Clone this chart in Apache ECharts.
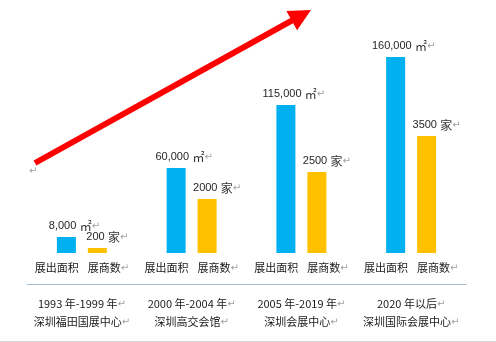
<!DOCTYPE html>
<html><head><meta charset="utf-8">
<script src="https://cdn.jsdelivr.net/npm/echarts@6/dist/echarts.min.js"></script>
<style>html,body{margin:0;padding:0;background:#fff}#c{width:496px;height:342px}</style>
</head><body><div id="c"></div>
<script>
// ---- data ----
const periods = ['1993 年-1999 年', '2000 年-2004 年', '2005 年-2019 年', '2020 年以后'];
const venues = ['深圳福田国展中心', '深圳高交会馆', '深圳会展中心', '深圳国际会展中心'];
const barNames = ['展出面积', '展商数'];
const areaValues = [8000, 60000, 115000, 160000];      // ㎡ (as labelled)
const exhibitorValues = [200, 2000, 2500, 3500];        // 家 (as labelled)
// bar heights as drawn in the original (illustrative, not to scale), in chart units
const areaDrawn = [16, 85, 148, 196];
const exhibitorDrawn = [5, 54, 81, 117];

const CJK = '"Noto Sans CJK SC", sans-serif';
const NUM = '"Liberation Sans", Arial, sans-serif';
const RET = {fontFamily: '"DejaVu Sans"', fontSize: 10, color: '#a0a0a0'};
const chart = echarts.init(document.getElementById('c'));

const rich = {
  n: {fontFamily: NUM, fontSize: 11, color: '#262626'},
  u: {fontFamily: CJK, fontSize: 12, color: '#333'},
  r: RET
};

// arrow geometry (decoration)
const aS = [35, 163], aT = [311, 10];
const dx = aT[0] - aS[0], dy = aT[1] - aS[1], L = Math.hypot(dx, dy);
const ux = dx / L, uy = dy / L, px = -uy, py = ux;
const headLen = 22, headHalf = 11;
const base = [aT[0] - ux * headLen, aT[1] - uy * headLen];

chart.setOption({
  backgroundColor: '#fff',
  animation: false,
  grid: {left: 27, right: 30, top: 53, bottom: 89},
  xAxis: [
    {
      type: 'category', data: periods, position: 'bottom',
      axisLine: {show: false}, axisTick: {show: false},
      axisLabel: {
        margin: 9, interval: 0,
        formatter: () => `{a|${barNames[0]}}{s|}{a|${barNames[1]}}{r|↵}`,
        rich: {
          a: {fontFamily: CJK, fontSize: 11, color: '#1a1a1a'},
          s: {width: 9},
          r: RET
        }
      }
    },
    {
      type: 'category', data: periods, position: 'bottom', offset: 31,
      axisLine: {show: true, lineStyle: {color: '#a9bad6', width: 1}},
      axisTick: {show: false},
      axisLabel: {
        margin: 11, interval: 0, lineHeight: 18,
        formatter: (v, i) => `{t|${v}}{r|↵}\n{t|${venues[i]}}{r|↵}`,
        rich: {
          t: {fontFamily: CJK, fontSize: 11, color: '#1a1a1a', lineHeight: 18},
          r: Object.assign({lineHeight: 18}, RET)
        }
      }
    }
  ],
  yAxis: {type: 'value', min: 0, max: 200, show: false, splitLine: {show: false}},
  series: [
    {
      name: barNames[0], type: 'bar', xAxisIndex: 0, data: areaDrawn,
      barWidth: 19, barGap: '63%',
      itemStyle: {color: '#00b0f0'},
      label: {
        show: true, position: 'top', distance: 5, offset: [8, 0],
        formatter: p => `{n|${areaValues[p.dataIndex].toLocaleString('en-US')}} {u|㎡}{r|↵}`,
        rich
      }
    },
    {
      name: barNames[1], type: 'bar', xAxisIndex: 0, data: exhibitorDrawn,
      barWidth: 19,
      itemStyle: {color: '#ffc000'},
      label: {
        show: true, position: 'top', distance: 5, offset: [10, 0],
        formatter: p => `{n|${exhibitorValues[p.dataIndex]}} {u|家}{r|↵}`,
        rich
      }
    }
  ],
  graphic: [
    {type: 'line', shape: {x1: aS[0], y1: aS[1], x2: base[0] + ux * 2, y2: base[1] + uy * 2},
     style: {stroke: '#ff0000', lineWidth: 6}},
    {type: 'polygon', shape: {points: [aT,
      [base[0] + px * headHalf, base[1] + py * headHalf],
      [base[0] - px * headHalf, base[1] - py * headHalf]]},
     style: {fill: '#ff0000'}},
    {type: 'text', left: 29, top: 166, style: {text: '↵', fontFamily: '"DejaVu Sans"', fontSize: 10, fill: '#a0a0a0'}},
    {type: 'line', shape: {x1: 0, y1: 341.5, x2: 496, y2: 341.5}, style: {stroke: '#d6d6d6', lineWidth: 1}}
  ]
});
</script></body></html>
